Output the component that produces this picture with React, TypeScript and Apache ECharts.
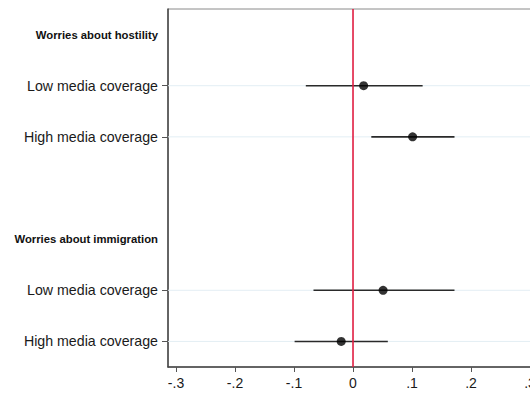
import React, { useEffect, useRef } from "react";
import * as echarts from "echarts";

// Row layout of the coefficient plot, top to bottom
const rowLabels = [
  "Worries about hostility",
  "Low media coverage",
  "High media coverage",
  "",
  "Worries about immigration",
  "Low media coverage",
  "High media coverage",
];
const rowKinds = ["header", "row", "row", "blank", "header", "row", "row"];

// Estimates with confidence bounds, indexed by row
const estRows = [1, 2, 5, 6];
const estimates = [0.018, 0.101, 0.051, -0.02];
const lowerBounds = [-0.08, 0.031, -0.067, -0.099];
const upperBounds = [0.118, 0.172, 0.172, 0.059];

const xTicks = [-0.3, -0.2, -0.1, 0, 0.1, 0.2, 0.3];
const xTickLabels = ["-.3", "-.2", "-.1", "0", ".1", ".2", ".3"];

export default function App() {
  const ref = useRef<HTMLDivElement>(null);

  useEffect(() => {
    if (!ref.current) return;
    const chart = echarts.init(ref.current, null, { renderer: "svg" });
    const font = "'Liberation Sans', Arial, sans-serif";

    const ciData = estRows.map((r, i) => [lowerBounds[i], upperBounds[i], r]);
    const pointData = estRows.map((r, i) => [estimates[i], r]);
    const gridRows = estRows.map((r) => [0, r]);

    chart.setOption({
      animation: false,
      grid: {
        left: 168,
        top: 9,
        width: 380,
        height: 358,
        outerBoundsMode: "none",
        containLabel: false,
        show: true,
        borderColor: "#8a8a8a",
        borderWidth: 1,
        backgroundColor: "transparent",
      },
      xAxis: {
        type: "value",
        min: -0.3136,
        max: 0.3305,
        splitLine: { show: false },
        axisLine: { show: true, onZero: false, lineStyle: { color: "#444", width: 1.5 } },
        axisTick: {
          show: true,
          length: 5,
          customValues: xTicks,
          lineStyle: { color: "#555", width: 1 },
        },
        axisLabel: {
          customValues: xTicks,
          margin: 9,
          fontSize: 14,
          fontFamily: font,
          color: "#1a1a1a",
          formatter: (v: number) => {
            const i = xTicks.findIndex((t) => Math.abs(t - v) < 1e-9);
            return i >= 0 ? xTickLabels[i] : "";
          },
        },
      },
      yAxis: {
        type: "category",
        inverse: true,
        data: rowLabels.map((_, i) => String(i)),
        boundaryGap: true,
        axisLine: { show: true, onZero: false, lineStyle: { color: "#444", width: 1.5 } },
        axisTick: {
          show: true,
          alignWithLabel: true,
          length: 6,
          interval: (index: number) => rowKinds[index] === "row",
          lineStyle: { color: "#555", width: 1 },
        },
        splitLine: { show: false },
        axisLabel: {
          interval: 0,
          margin: 10,
          fontFamily: font,
          formatter: (_v: string, index: number) => {
            const label = rowLabels[index];
            if (!label) return "";
            return rowKinds[index] === "header" ? `{h|${label}}` : `{r|${label}}`;
          },
          rich: {
            h: { fontSize: 11.3, fontWeight: "bold", color: "#111", fontFamily: font },
            r: { fontSize: 14.2, color: "#1a1a1a", fontFamily: font },
          },
        },
      },
      series: [
        {
          // light horizontal guides at the estimate rows
          type: "custom",
          z: 1,
          silent: true,
          data: gridRows,
          encode: { x: 0, y: 1 },
          renderItem: (params: any, api: any) => {
            const cs = params.coordSys;
            const y = api.coord([0, api.value(1)])[1];
            return {
              type: "line",
              shape: { x1: cs.x, y1: y, x2: cs.x + cs.width, y2: y },
              style: { stroke: "#e3eef4", lineWidth: 1 },
            };
          },
        },
        {
          // confidence intervals
          type: "custom",
          z: 2,
          silent: true,
          data: ciData,
          encode: { x: [0, 1], y: 2 },
          renderItem: (_params: any, api: any) => {
            const p1 = api.coord([api.value(0), api.value(2)]);
            const p2 = api.coord([api.value(1), api.value(2)]);
            return {
              type: "line",
              shape: { x1: p1[0], y1: p1[1], x2: p2[0], y2: p2[1] },
              style: { stroke: "#2a2a2a", lineWidth: 1.6 },
            };
          },
        },
        {
          // reference line at zero
          type: "custom",
          z: 3,
          silent: true,
          data: [[0]],
          encode: { x: 0 },
          renderItem: (params: any, api: any) => {
            const cs = params.coordSys;
            const x = api.coord([api.value(0), 0])[0];
            return {
              type: "line",
              shape: { x1: x, y1: cs.y, x2: x, y2: cs.y + cs.height },
              style: { stroke: "#e01e42", lineWidth: 1.6 },
            };
          },
        },
        {
          type: "scatter",
          z: 4,
          data: pointData,
          symbol: "circle",
          symbolSize: 9,
          itemStyle: { color: "#000" },
        },
      ],
    });

    return () => chart.dispose();
  }, []);

  return (
    <div
      ref={ref}
      style={{ position: "fixed", left: 0, top: 0, width: 530, height: 395, background: "#fff" }}
    />
  );
}
